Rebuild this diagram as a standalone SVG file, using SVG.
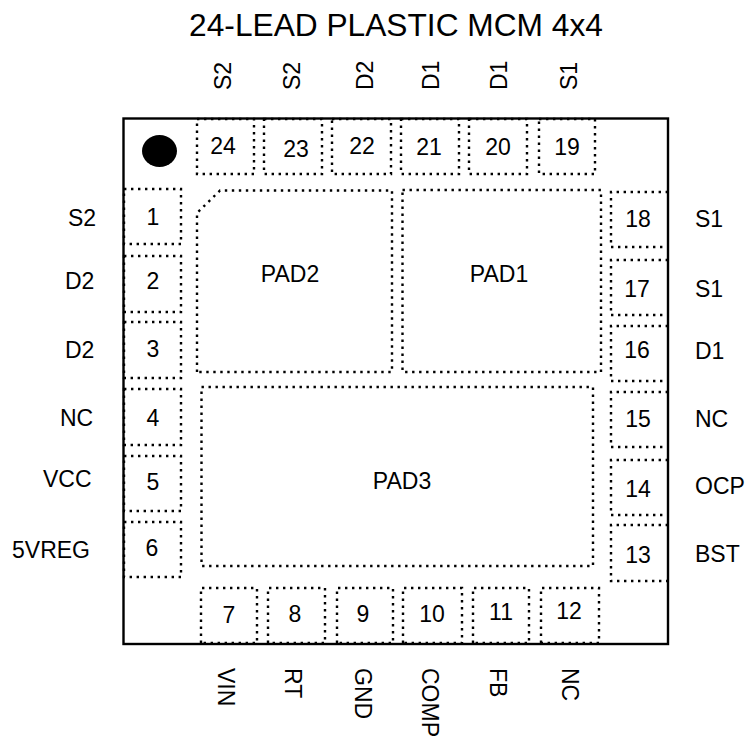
<svg xmlns="http://www.w3.org/2000/svg" width="748" height="738" viewBox="0 0 748 738">
<style>
text{font-family:"Liberation Sans",Arial,sans-serif;font-size:23px;fill:#000}
.t{font-size:31.7px}
.c{text-anchor:middle}
.d{fill:none;stroke:#000;stroke-width:2.4;stroke-dasharray:2.4 4.6}
</style>
<rect width="748" height="738" fill="#fff"/>
<text class="t c" x="396" y="36">24-LEAD PLASTIC MCM 4x4</text>
<rect id="package" x="123.5" y="118.5" width="544.5" height="525.5" fill="none" stroke="#000" stroke-width="2.4"/>
<ellipse id="pin1-mark" cx="159.5" cy="151" rx="17.5" ry="16"/>
<g id="pad1"><path class="d" d="M402.5 190H601V372H402.5Z"/><text class="c" x="499" y="282">PAD1</text></g>
<g id="pad2"><path class="d" d="M197 372V213L220 190.5H392V372Z"/><text class="c" x="290" y="282">PAD2</text></g>
<g id="pad3"><path class="d" d="M201.5 387H593V566H201.5Z"/><text class="c" x="402" y="489">PAD3</text></g>
<g id="pin24"><path class="d" d="M197 119H254V174H197Z"/><text class="c" x="223" y="154">24</text></g>
<g id="pin23"><path class="d" d="M264 119H322V174H264Z"/><text class="c" x="296" y="157">23</text></g>
<g id="pin22"><path class="d" d="M332 119H391V174H332Z"/><text class="c" x="362" y="154">22</text></g>
<g id="pin21"><path class="d" d="M401 119H459V174H401Z"/><text class="c" x="429" y="155">21</text></g>
<g id="pin20"><path class="d" d="M469 119H527V174H469Z"/><text class="c" x="498" y="155">20</text></g>
<g id="pin19"><path class="d" d="M539 119H595V174H539Z"/><text class="c" x="567" y="155">19</text></g>
<g id="pin1"><path class="d" d="M124 189H181V244H124Z"/><text class="c" x="153" y="225">1</text></g>
<g id="pin2"><path class="d" d="M124 256H181V312H124Z"/><text class="c" x="153" y="289">2</text></g>
<g id="pin3"><path class="d" d="M124 322H181V378H124Z"/><text class="c" x="153" y="357">3</text></g>
<g id="pin4"><path class="d" d="M124 389H181V445H124Z"/><text class="c" x="153" y="426">4</text></g>
<g id="pin5"><path class="d" d="M124 456H181V511H124Z"/><text class="c" x="153" y="490">5</text></g>
<g id="pin6"><path class="d" d="M124 522H181V577H124Z"/><text class="c" x="152" y="556">6</text></g>
<g id="pin18"><path class="d" d="M668 192H611V247H668"/><text class="c" x="638" y="227">18</text></g>
<g id="pin17"><path class="d" d="M668 260H611V315H668"/><text class="c" x="637" y="297">17</text></g>
<g id="pin16"><path class="d" d="M668 326H611V381H668"/><text class="c" x="637" y="358">16</text></g>
<g id="pin15"><path class="d" d="M668 392H611V447H668"/><text class="c" x="638" y="427">15</text></g>
<g id="pin14"><path class="d" d="M668 460H611V515H668"/><text class="c" x="638" y="497">14</text></g>
<g id="pin13"><path class="d" d="M668 525H611V581H668"/><text class="c" x="638" y="563">13</text></g>
<g id="pin7"><path class="d" d="M201 643V588H257V643H201"/><text class="c" x="229" y="623">7</text></g>
<g id="pin8"><path class="d" d="M268 643V588H325V643H268"/><text class="c" x="295" y="622">8</text></g>
<g id="pin9"><path class="d" d="M337 643V588H393V643H337"/><text class="c" x="363" y="622">9</text></g>
<g id="pin10"><path class="d" d="M403 643V588H462V643H403"/><text class="c" x="432" y="622">10</text></g>
<g id="pin11"><path class="d" d="M473 643V588H529V643H473"/><text class="c" x="501" y="620">11</text></g>
<g id="pin12"><path class="d" d="M541 643V588H599V643H541"/><text class="c" x="569" y="619">12</text></g>
<g id="labels-top">
<text transform="translate(231 90) rotate(-90)">S2</text>
<text transform="translate(300 90) rotate(-90)">S2</text>
<text transform="translate(373 90) rotate(-90)">D2</text>
<text transform="translate(439 90) rotate(-90)">D1</text>
<text transform="translate(507 90) rotate(-90)">D1</text>
<text transform="translate(577 90) rotate(-90)">S1</text>
</g>
<g id="labels-left">
<text x="68" y="226">S2</text>
<text x="65" y="289">D2</text>
<text x="65" y="358">D2</text>
<text x="60" y="426">NC</text>
<text x="43" y="487">VCC</text>
<text x="12" y="558">5VREG</text>
</g>
<g id="labels-right">
<text x="695" y="227">S1</text>
<text x="695" y="297">S1</text>
<text x="695" y="359">D1</text>
<text x="695" y="427">NC</text>
<text x="695" y="494">OCP</text>
<text x="695" y="562">BST</text>
</g>
<g id="labels-bottom">
<text transform="translate(218 668) rotate(90)">VIN</text>
<text transform="translate(285 668) rotate(90)">RT</text>
<text transform="translate(355 668) rotate(90)">GND</text>
<text transform="translate(422 668) rotate(90)">COMP</text>
<text transform="translate(490 668) rotate(90)">FB</text>
<text transform="translate(562 668) rotate(90)">NC</text>
</g>
</svg>
